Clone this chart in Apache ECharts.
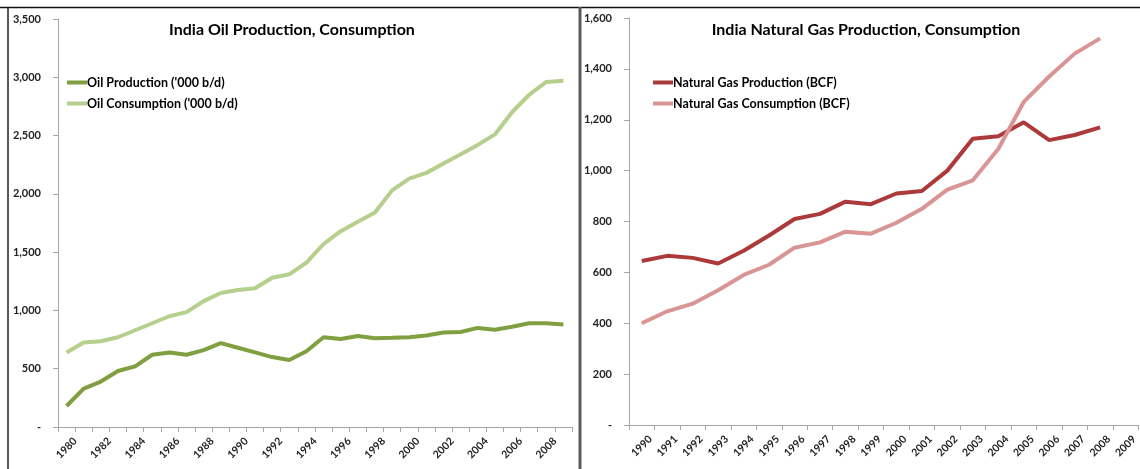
<!DOCTYPE html>
<html><head><meta charset="utf-8">
<script src="https://cdn.jsdelivr.net/npm/echarts@6/dist/echarts.min.js"></script>
<style>html,body{margin:0;padding:0;background:#fff}#c{width:1140px;height:469px}</style>
</head><body><div id="c"></div>
<script>
const oilYears = [1980,1981,1982,1983,1984,1985,1986,1987,1988,1989,1990,1991,1992,1993,1994,1995,1996,1997,1998,1999,2000,2001,2002,2003,2004,2005,2006,2007,2008,2009].map(String);
const oilProduction = [180,330,390,480,520,620,640,620,660,720,680,640,600,575,650,770,755,780,762,765,770,785,810,815,850,835,860,890,890,880];
const oilConsumption = [640,725,735,770,830,890,950,985,1080,1150,1175,1190,1280,1310,1410,1570,1680,1760,1840,2030,2130,2180,2260,2340,2420,2510,2700,2850,2960,2970];
const gasYears = [1990,1991,1992,1993,1994,1995,1996,1997,1998,1999,2000,2001,2002,2003,2004,2005,2006,2007,2008,2009].map(String);
const gasProduction = [645,665,657,635,685,745,810,830,878,868,910,920,1000,1125,1135,1190,1120,1140,1170,null];
const gasConsumption = [400,447,477,530,590,630,697,718,760,752,795,850,925,962,1085,1270,1370,1460,1520,null];

const FONT = 'Lato, "Open Sans", sans-serif';
const fmt = v => v === 0 ? '-' : v.toLocaleString('en-US');
const axisLine = {show:true, lineStyle:{color:'#a6a6a6', width:1}};
const yLabel = {formatter: fmt, fontFamily: FONT, fontWeight:'bold', fontSize:11, color:'#222', margin:17};
const xLabel = {fontFamily: FONT, fontWeight:'bold', fontSize:10.5, color:'#222', rotate:45, margin:21,
                align:'center', verticalAlign:'middle'};

const chart = echarts.init(document.getElementById('c'));
chart.setOption({
  animation:false,
  backgroundColor:'#fff',
  title:[
    {text:'India Oil Production, Consumption', left:287, top:17, textAlign:'center',
     textStyle:{fontFamily:FONT, fontWeight:'bold', fontSize:16, color:'#000'}},
    {text:'India Natural Gas Production, Consumption', left:861, top:17, textAlign:'center',
     textStyle:{fontFamily:FONT, fontWeight:'bold', fontSize:16, color:'#000'}}
  ],
  legend:[
    {orient:'vertical', left:62, top:71, itemGap:8, itemWidth:20, itemHeight:4, icon:'rect',
     data:['Oil Production (\'000 b/d)','Oil Consumption (\'000 b/d)'],
     textStyle:{fontFamily:FONT, fontWeight:'bold', fontSize:12.5, color:'#000', padding:[0,0,0,-5]}},
    {orient:'vertical', left:648, top:71, itemGap:8, itemWidth:20, itemHeight:4, icon:'rect',
     data:['Natural Gas Production (BCF)','Natural Gas Consumption (BCF)'],
     textStyle:{fontFamily:FONT, fontWeight:'bold', fontSize:12.5, color:'#000', padding:[0,0,0,-5]}}
  ],
  grid:[
    {left:58, top:19, width:514, bottom:42, containLabel:false},
    {left:629, top:18, width:518, bottom:44, containLabel:false}
  ],
  xAxis:[
    {type:'category', gridIndex:0, data:oilYears, boundaryGap:true, axisLine,
     axisTick:{show:true, alignWithLabel:false, interval:0, length:5, lineStyle:{color:'#a6a6a6'}},
     axisLabel:Object.assign({interval:1}, xLabel), splitLine:{show:false}},
    {type:'category', gridIndex:1, data:gasYears, boundaryGap:true, axisLine,
     axisTick:{show:true, interval:0, length:5, lineStyle:{color:'#a6a6a6'}},
     axisLabel:Object.assign({interval:0}, xLabel), splitLine:{show:false}}
  ],
  yAxis:[
    {type:'value', gridIndex:0, min:0, max:3500, interval:500, axisLine,
     axisTick:{show:true, length:5, lineStyle:{color:'#a6a6a6'}}, axisLabel:yLabel, splitLine:{show:false}},
    {type:'value', gridIndex:1, min:0, max:1600, interval:200, axisLine,
     axisTick:{show:true, length:5, lineStyle:{color:'#a6a6a6'}}, axisLabel:yLabel, splitLine:{show:false}}
  ],
  series:[
    {name:'Oil Production (\'000 b/d)', type:'line', xAxisIndex:0, yAxisIndex:0, data:oilProduction,
     showSymbol:false, symbol:'none', color:'#7f9f40', lineStyle:{width:4, color:'#7f9f40'}},
    {name:'Oil Consumption (\'000 b/d)', type:'line', xAxisIndex:0, yAxisIndex:0, data:oilConsumption,
     showSymbol:false, symbol:'none', color:'#b5cf8c', lineStyle:{width:4, color:'#b5cf8c'}},
    {name:'Natural Gas Production (BCF)', type:'line', xAxisIndex:1, yAxisIndex:1, data:gasProduction,
     showSymbol:false, symbol:'none', color:'#ac3a3a', lineStyle:{width:4, color:'#ac3a3a'}},
    {name:'Natural Gas Consumption (BCF)', type:'line', xAxisIndex:1, yAxisIndex:1, data:gasConsumption,
     showSymbol:false, symbol:'none', color:'#d99594', lineStyle:{width:4, color:'#d99594'}}
  ],
  graphic:[
    {type:'line', shape:{x1:0, y1:7.5, x2:1140, y2:7.5}, style:{stroke:'#111', lineWidth:1.5}},
    {type:'line', shape:{x1:8, y1:7, x2:8, y2:469}, style:{stroke:'#222', lineWidth:1.5}},
    {type:'line', shape:{x1:580, y1:7, x2:580, y2:469}, style:{stroke:'#5a5a5a', lineWidth:3}}
  ]
});
</script></body></html>
